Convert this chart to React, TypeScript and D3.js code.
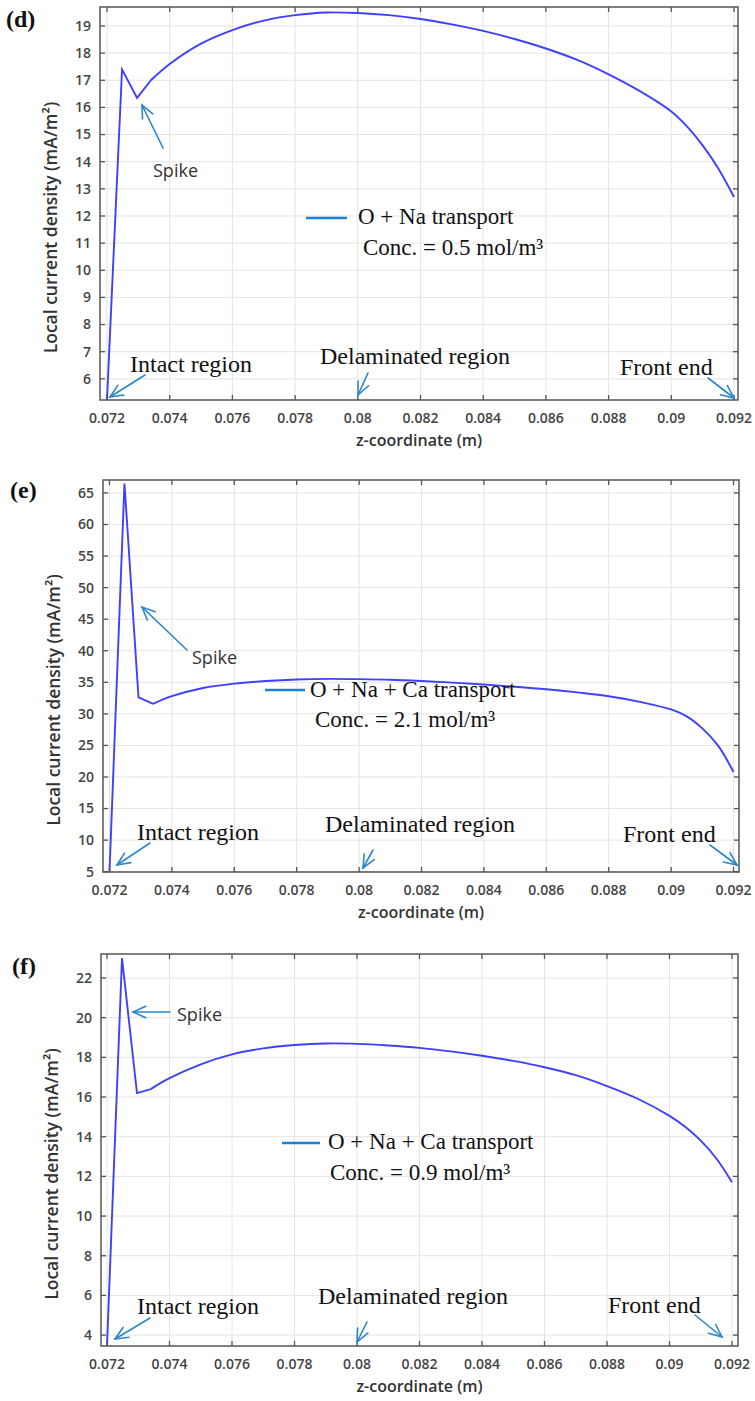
import React from "react";
import * as d3 from "d3";

// ---------- data ----------
const Z_TICKS = [0.072, 0.074, 0.076, 0.078, 0.08, 0.082, 0.084, 0.086, 0.088, 0.09, 0.092];
const Z_TICK_LABELS = ["0.072", "0.074", "0.076", "0.078", "0.08", "0.082", "0.084", "0.086", "0.088", "0.09", "0.092"];

const Y_TICKS_D = [6, 7, 8, 9, 10, 11, 12, 13, 14, 15, 16, 17, 18, 19];
const Y_TICKS_E = [5, 10, 15, 20, 25, 30, 35, 40, 45, 50, 55, 60, 65];
const Y_TICKS_F = [4, 6, 8, 10, 12, 14, 16, 18, 20, 22];

const Z_D = [0.072, 0.07248, 0.07296, 0.0734, 0.074, 0.075, 0.076, 0.077, 0.078, 0.079, 0.08, 0.081, 0.082, 0.083, 0.084, 0.085, 0.086, 0.087, 0.088, 0.089, 0.09, 0.0905, 0.091, 0.0915, 0.092];
const J_D = [5.22, 17.4, 16.35, 17.0, 17.6, 18.35, 18.85, 19.2, 19.4, 19.5, 19.48, 19.4, 19.26, 19.06, 18.82, 18.52, 18.17, 17.75, 17.22, 16.6, 15.85, 15.3, 14.6, 13.75, 12.7];

const Z_E = [0.072, 0.07248, 0.07293, 0.0734, 0.074, 0.075, 0.076, 0.077, 0.078, 0.079, 0.08, 0.081, 0.082, 0.083, 0.084, 0.085, 0.086, 0.087, 0.088, 0.089, 0.09, 0.0905, 0.091, 0.0915, 0.092];
const J_E = [4.95, 66.5, 32.6, 31.6, 32.8, 34.1, 34.8, 35.2, 35.45, 35.55, 35.5, 35.4, 35.2, 34.95, 34.65, 34.3, 33.9, 33.4, 32.8, 31.9, 30.7, 29.6, 27.7, 25.0, 20.8];

const Z_F = [0.072, 0.07248, 0.07296, 0.0734, 0.074, 0.075, 0.076, 0.077, 0.078, 0.079, 0.08, 0.081, 0.082, 0.083, 0.084, 0.085, 0.086, 0.087, 0.088, 0.089, 0.09, 0.0905, 0.091, 0.0915, 0.092];
const J_F = [3.45, 23.0, 16.2, 16.4, 16.95, 17.65, 18.15, 18.45, 18.62, 18.7, 18.68, 18.6, 18.48, 18.3, 18.08, 17.82, 17.5, 17.1, 16.55, 15.9, 15.05, 14.5, 13.8, 12.9, 11.7];

const LEGEND_SPECIES = ["O + Na transport", "O + Na + Ca transport", "O + Na + Ca transport"];
const LEGEND_CONC = ["Conc. = 0.5 mol/m³", "Conc. = 2.1 mol/m³", "Conc. = 0.9 mol/m³"];
const PANEL_LABELS = ["(d)", "(e)", "(f)"];

// ---------- layout ----------
type Arrow = [number, number, number, number];
interface Panel {
  label: string;
  box: { l: number; r: number; t: number; b: number };
  xDom: [number, number];
  yDom: [number, number];
  yTicks: number[];
  z: number[];
  j: number[];
  labelPos: [number, number];
  texts: { t: string; x: number; y: number; sans?: boolean }[];
  arrows: Arrow[];
  legend: { x1: number; x2: number; ly: number; t1x: number; t1y: number; t2x: number; t2y: number; s1: string; s2: string };
}

const panels: Panel[] = [
  {
    label: PANEL_LABELS[0],
    box: { l: 100, r: 738, t: 7, b: 400 },
    xDom: [0.071777, 0.092128],
    yDom: [5.22, 19.7],
    yTicks: Y_TICKS_D,
    z: Z_D,
    j: J_D,
    labelPos: [6, 27],
    texts: [
      { t: "Spike", x: 153, y: 177, sans: true },
      { t: "Intact region", x: 130, y: 372 },
      { t: "Delaminated region", x: 320, y: 364 },
      { t: "Front end", x: 620, y: 375 },
    ],
    arrows: [
      [163, 148, 142, 105],
      [145, 375, 110, 397],
      [368, 373, 358, 395],
      [708, 378, 734, 398],
    ],
    legend: { x1: 306, x2: 347, ly: 218, t1x: 358, t1y: 224, t2x: 363, t2y: 255, s1: LEGEND_SPECIES[0], s2: LEGEND_CONC[0] },
  },
  {
    label: PANEL_LABELS[1],
    box: { l: 103, r: 739, t: 480, b: 872 },
    xDom: [0.071792, 0.092176],
    yDom: [4.95, 67.05],
    yTicks: Y_TICKS_E,
    z: Z_E,
    j: J_E,
    labelPos: [10, 498],
    texts: [
      { t: "Spike", x: 192, y: 664, sans: true },
      { t: "Intact region", x: 137, y: 840 },
      { t: "Delaminated region", x: 325, y: 832 },
      { t: "Front end", x: 623, y: 842 },
    ],
    arrows: [
      [187, 650, 142, 607],
      [150, 843, 117, 865],
      [373, 850, 363, 868],
      [710, 845, 737, 865],
    ],
    legend: { x1: 265, x2: 305, ly: 690, t1x: 310, t1y: 697, t2x: 315, t2y: 727, s1: LEGEND_SPECIES[1], s2: LEGEND_CONC[1] },
  },
  {
    label: PANEL_LABELS[2],
    box: { l: 101, r: 738, t: 954, b: 1346 },
    xDom: [0.071808, 0.092192],
    yDom: [3.45, 23.21],
    yTicks: Y_TICKS_F,
    z: Z_F,
    j: J_F,
    labelPos: [12, 974],
    texts: [
      { t: "Spike", x: 177, y: 1021, sans: true },
      { t: "Intact region", x: 137, y: 1314 },
      { t: "Delaminated region", x: 318, y: 1304 },
      { t: "Front end", x: 608, y: 1313 },
    ],
    arrows: [
      [170, 1012, 133, 1012],
      [150, 1318, 115, 1339],
      [367, 1322, 357, 1342],
      [695, 1315, 722, 1337],
    ],
    legend: { x1: 282, x2: 320, ly: 1143, t1x: 328, t1y: 1149, t2x: 330, t2y: 1180, s1: LEGEND_SPECIES[2], s2: LEGEND_CONC[2] },
  },
];

const AXIS = "#555";
const GRID = "#e4e4e4";
const CURVE = "#3f3fff";
const ANNOT = "#2b86cc";
const SANS = "'Open Sans', 'Noto Sans', sans-serif";
const SERIF = "'Liberation Serif', 'Times New Roman', serif";

function ArrowMark({ a }: { a: Arrow }) {
  const [x1, y1, x2, y2] = a;
  const ang = Math.atan2(y1 - y2, x1 - x2);
  const len = 14;
  const spread = 0.42;
  const h1 = [x2 + len * Math.cos(ang + spread), y2 + len * Math.sin(ang + spread)];
  const h2 = [x2 + len * Math.cos(ang - spread), y2 + len * Math.sin(ang - spread)];
  return (
    <g stroke={ANNOT} strokeWidth={1.6} fill="none" strokeLinecap="round">
      <line x1={x1} y1={y1} x2={x2} y2={y2} />
      <polyline points={`${h1[0]},${h1[1]} ${x2},${y2} ${h2[0]},${h2[1]}`} />
    </g>
  );
}

function PanelView({ p }: { p: Panel }) {
  const { l, r, t, b } = p.box;
  const x = d3.scaleLinear().domain(p.xDom).range([l, r]);
  const y = d3.scaleLinear().domain(p.yDom).range([b, t]);
  const pts: [number, number][] = p.z.map((z, i) => [z, p.j[i]]);
  // spike and dip: straight segments; after the dip the profile is smooth
  const spikePts = pts.slice(0, 4);
  const smoothPts = pts.slice(3);
  const lin = d3
    .line<[number, number]>()
    .x((d) => x(d[0]))
    .y((d) => y(d[1]));
  const smooth = d3
    .line<[number, number]>()
    .x((d) => x(d[0]))
    .y((d) => y(d[1]))
    .curve(d3.curveCatmullRom.alpha(0.5));
  const clipId = `clip-${p.label.replace(/[()]/g, "")}`;
  const tickLen = 5;
  return (
    <g>
      <defs>
        <clipPath id={clipId}>
          <rect x={l} y={t} width={r - l} height={b - t} />
        </clipPath>
      </defs>
      {/* grid */}
      {Z_TICKS.map((z) => (
        <line key={"gx" + z} x1={x(z)} x2={x(z)} y1={t} y2={b} stroke={GRID} strokeWidth={1} />
      ))}
      {p.yTicks.map((v) => (
        <line key={"gy" + v} x1={l} x2={r} y1={y(v)} y2={y(v)} stroke={GRID} strokeWidth={1} />
      ))}
      {/* curve */}
      <g clipPath={`url(#${clipId})`} fill="none" stroke={CURVE} strokeWidth={1.9}>
        <path d={lin(spikePts) || ""} strokeLinejoin="miter" />
        <path d={smooth(smoothPts) || ""} />
      </g>
      {/* frame */}
      <rect x={l} y={t} width={r - l} height={b - t} fill="none" stroke={AXIS} strokeWidth={1.5} />
      {/* ticks */}
      {Z_TICKS.map((z) => (
        <g key={"tx" + z} stroke={AXIS} strokeWidth={1.3}>
          <line x1={x(z)} x2={x(z)} y1={b} y2={b - tickLen} />
          <line x1={x(z)} x2={x(z)} y1={t} y2={t + tickLen} />
        </g>
      ))}
      {p.yTicks.map((v) => (
        <g key={"ty" + v} stroke={AXIS} strokeWidth={1.3}>
          <line x1={l} x2={l + tickLen} y1={y(v)} y2={y(v)} />
          <line x1={r} x2={r - tickLen} y1={y(v)} y2={y(v)} />
        </g>
      ))}
      {/* tick labels */}
      {Z_TICKS.map((z, i) => (
        <text key={"lx" + z} x={x(z)} y={b + 23} textAnchor="middle" fontFamily={SANS} fontSize={14} fontWeight={600} fill="#444">
          {Z_TICK_LABELS[i]}
        </text>
      ))}
      {p.yTicks.map((v) => (
        <text key={"ly" + v} x={l - 9} y={y(v)} dy="0.35em" textAnchor="end" fontFamily={SANS} fontSize={14} fontWeight={600} fill="#444">
          {String(v)}
        </text>
      ))}
      {/* axis titles */}
      <text x={(l + r) / 2} y={b + 46} textAnchor="middle" fontFamily={SANS} fontSize={16} fontWeight={600} fill="#333">
        z-coordinate (m)
      </text>
      <text
        transform={`translate(${l - 43},${(t + b) / 2 + 24}) rotate(-90)`}
        textAnchor="middle"
        fontFamily={SANS}
        fontSize={17.5}
        fontWeight={600}
        fill="#333"
      >
        Local current density (mA/m²)
      </text>
      {/* panel label */}
      <text x={p.labelPos[0]} y={p.labelPos[1]} fontFamily={SERIF} fontWeight={700} fontSize={24} fill="#111">
        {p.label}
      </text>
      {/* legend */}
      <line x1={p.legend.x1} x2={p.legend.x2} y1={p.legend.ly} y2={p.legend.ly} stroke="#1f7fd6" strokeWidth={2.6} />
      <text x={p.legend.t1x} y={p.legend.t1y} fontFamily={SERIF} fontSize={23} fill="#111">
        {p.legend.s1}
      </text>
      <text x={p.legend.t2x} y={p.legend.t2y} fontFamily={SERIF} fontSize={23} fill="#111">
        {p.legend.s2}
      </text>
      {/* annotations */}
      {p.arrows.map((a, i) => (
        <ArrowMark key={"a" + i} a={a} />
      ))}
      {p.texts.map((tx, i) =>
        tx.sans ? (
          <text key={"t" + i} x={tx.x} y={tx.y} fontFamily={SANS} fontSize={18} fill="#333">
            {tx.t}
          </text>
        ) : (
          <text key={"t" + i} x={tx.x} y={tx.y} fontFamily={SERIF} fontSize={24} fill="#111">
            {tx.t}
          </text>
        )
      )}
    </g>
  );
}

export default function App() {
  return (
    <div style={{ position: "absolute", left: 0, top: 0 }}>
      <svg width={755} height={1401} viewBox="0 0 755 1401" style={{ display: "block", background: "#fff" }}>
        <rect x={0} y={0} width={755} height={1401} fill="#fff" />
        {panels.map((p) => (
          <PanelView key={p.label} p={p} />
        ))}
      </svg>
    </div>
  );
}
